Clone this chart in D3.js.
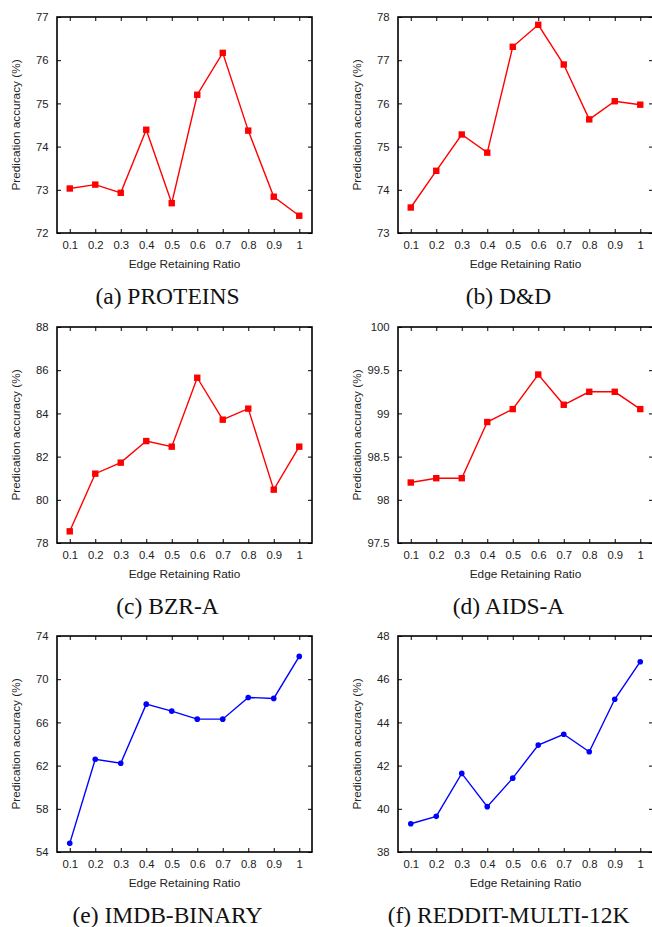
<!DOCTYPE html>
<html>
<head>
<meta charset="utf-8">
<script src="https://cdn.jsdelivr.net/npm/d3@7"></script>
<style>
	body { margin: 0; background: #fff; }
	svg { display: block; }
	.tick text { font-family: "Liberation Sans", Arial, sans-serif; font-size: 11.3px; fill: #222; }
	.axis-title { font-family: "Liberation Sans", Arial, sans-serif; font-size: 11.8px; fill: #222; }
	.caption { font-family: "Liberation Serif", "Times New Roman", serif; font-size: 23.5px; fill: #111; }
</style>
</head>
<body>
<div id="chart"></div>
<script>
// edge retaining ratio, shared by all six panels
var ratios = [0.1, 0.2, 0.3, 0.4, 0.5, 0.6, 0.7, 0.8, 0.9, 1];

// accuracy per dataset (%)
var proteins = [73.03, 73.12, 72.93, 74.39, 72.69, 75.20, 76.17, 74.37, 72.84, 72.40];
var dd       = [73.59, 74.44, 75.28, 74.86, 77.31, 77.82, 76.90, 75.63, 76.05, 75.97];
var bzr      = [78.54, 81.21, 81.72, 82.72, 82.46, 85.65, 83.71, 84.22, 80.47, 82.46];
var aids     = [98.20, 98.25, 98.25, 98.90, 99.05, 99.45, 99.10, 99.25, 99.25, 99.05];
var imdb     = [54.8, 62.59, 62.22, 67.69, 67.04, 66.30, 66.30, 68.31, 68.22, 72.11];
var reddit   = [39.31, 39.65, 41.64, 40.10, 41.42, 42.95, 43.45, 42.64, 45.07, 46.81];

// y tick labels per panel
var proteinsTicks = [72, 73, 74, 75, 76, 77];
var ddTicks       = [73, 74, 75, 76, 77, 78];
var bzrTicks      = [78, 80, 82, 84, 86, 88];
var aidsTicks     = [97.5, 98, 98.5, 99, 99.5, 100];
var imdbTicks     = [54, 58, 62, 66, 70, 74];
var redditTicks   = [38, 40, 42, 44, 46, 48];

var captions = ["(a) PROTEINS", "(b) D&D", "(c) BZR-A", "(d) AIDS-A", "(e) IMDB-BINARY", "(f) REDDIT-MULTI-12K"];

var panels = [
	{values: proteins, ticks: proteinsTicks, marker: "square"},
	{values: dd,       ticks: ddTicks,       marker: "square"},
	{values: bzr,      ticks: bzrTicks,      marker: "square"},
	{values: aids,     ticks: aidsTicks,     marker: "square"},
	{values: imdb,     ticks: imdbTicks,     marker: "circle"},
	{values: reddit,   ticks: redditTicks,   marker: "circle"}
];

var W = 652, H = 927;
var plotW = 255, plotH = 216;
var colLeft = [57, 398];
var rowTop = [17, 327, 636];

var svg = d3.select("#chart").append("svg")
	.attr("width", W)
	.attr("height", H);

var fmt = d3.format("~g");

panels.forEach(function(p, i) {
	var col = i % 2, row = Math.floor(i / 2);
	var color = p.marker == "square" ? "#ff0000" : "#0000ff";

	var x = d3.scaleLinear().domain([0.05, 1.05]).range([0, plotW]);
	var y = d3.scaleLinear()
		.domain([p.ticks[0], p.ticks[p.ticks.length - 1]])
		.range([plotH, 0]);

	var g = svg.append("g")
		.attr("transform", "translate(" + colLeft[col] + "," + rowTop[row] + ")");

	// axes, ticks pointing inward on all four sides (gnuplot style)
	g.append("g")
		.attr("transform", "translate(0," + plotH + ")")
		.call(d3.axisBottom(x).tickValues(ratios).tickFormat(fmt).tickSizeInner(-4).tickSizeOuter(0).tickPadding(8));
	g.append("g")
		.call(d3.axisTop(x).tickValues(ratios).tickFormat("").tickSizeInner(-4).tickSizeOuter(0));
	g.append("g")
		.call(d3.axisLeft(y).tickValues(p.ticks).tickFormat(fmt).tickSizeInner(-4).tickSizeOuter(0).tickPadding(8.5));
	g.append("g")
		.attr("transform", "translate(" + plotW + ",0)")
		.call(d3.axisRight(y).tickValues(p.ticks).tickFormat("").tickSizeInner(-4).tickSizeOuter(0));

	g.selectAll(".domain").remove();
	g.selectAll(".tick line").attr("stroke", "#000").attr("stroke-width", 1);

	g.append("rect")
		.attr("width", plotW)
		.attr("height", plotH)
		.attr("fill", "none")
		.attr("stroke", "#000")
		.attr("stroke-width", 1.6);

	var pts = ratios.map(function(r, k) { return [r, p.values[k]]; });

	g.append("path")
		.datum(pts)
		.attr("fill", "none")
		.attr("stroke", color)
		.attr("stroke-width", 1.4)
		.attr("d", d3.line().x(function(d) { return x(d[0]); }).y(function(d) { return y(d[1]); }));

	if (p.marker == "square") {
		g.selectAll(".mk").data(pts).enter().append("rect")
			.attr("x", function(d) { return x(d[0]) - 3.2; })
			.attr("y", function(d) { return y(d[1]) - 3.2; })
			.attr("width", 6.4)
			.attr("height", 6.4)
			.attr("fill", color);
	} else {
		g.selectAll(".mk").data(pts).enter().append("circle")
			.attr("cx", function(d) { return x(d[0]); })
			.attr("cy", function(d) { return y(d[1]); })
			.attr("r", 2.8)
			.attr("fill", color);
	}

	g.append("text")
		.attr("class", "axis-title")
		.attr("x", plotW / 2)
		.attr("y", plotH + 35)
		.attr("text-anchor", "middle")
		.text("Edge Retaining Ratio");

	g.append("text")
		.attr("class", "axis-title")
		.attr("transform", "translate(-37," + (plotH / 2) + ") rotate(-90)")
		.attr("text-anchor", "middle")
		.text("Predication accuracy (%)");

	// subfigure caption, sits a little left of the plot centre
	g.append("text")
		.attr("class", "caption")
		.attr("x", plotW / 2 - 17)
		.attr("y", plotH + 71)
		.attr("text-anchor", "middle")
		.text(captions[i]);
});
</script>
</body>
</html>
